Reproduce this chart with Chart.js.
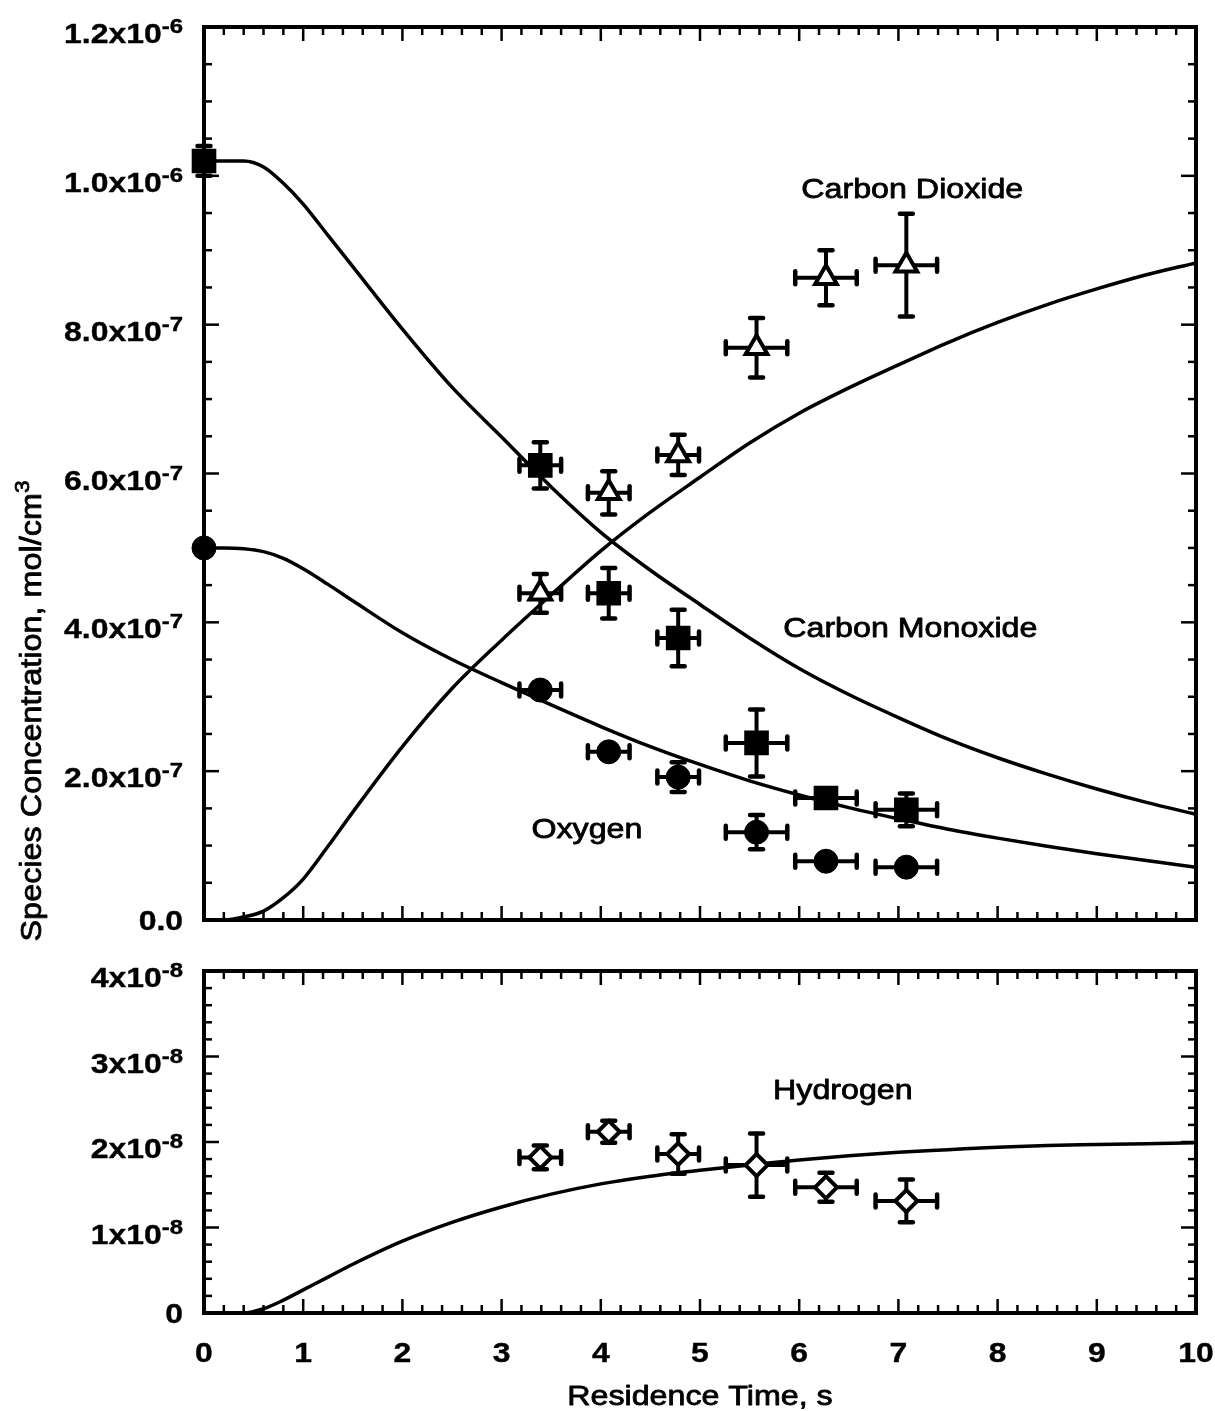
<!DOCTYPE html>
<html>
<head>
<meta charset="utf-8">
<title>Species Concentration vs Residence Time</title>
<script src="https://cdn.jsdelivr.net/npm/chart.js@4"></script>
<style>
html, body { margin: 0; padding: 0; background: #fff; }
#wrap { position: relative; width: 1215px; height: 1411px; overflow: hidden; }
#topChart { position: absolute; left: 0; top: 0; }
#botChart { position: absolute; left: 0; top: 940px; }
</style>
</head>
<body>
<div id="wrap">
  <canvas id="topChart" width="1215" height="1000"></canvas>
  <canvas id="botChart" width="1215" height="471"></canvas>
</div>
<script>
// model curves (solid lines)
const modelTime = [0, 0.2, 0.4, 0.6, 0.8, 1.0, 1.25, 1.5, 2, 2.5, 3, 3.5, 4, 4.5, 5, 5.5, 6, 6.5, 7, 7.5, 8, 8.5, 9, 9.5, 10]
const coModel = [10.2e-7, 10.2e-7, 10.2e-7, 10.12e-7, 9.9e-7, 9.62e-7, 9.2e-7, 8.78e-7, 7.94e-7, 7.16e-7, 6.49e-7, 5.82e-7, 5.21e-7, 4.7e-7, 4.24e-7, 3.79e-7, 3.38e-7, 3.03e-7, 2.72e-7, 2.43e-7, 2.18e-7, 1.96e-7, 1.76e-7, 1.58e-7, 1.42e-7]
const co2Model = [0, 0, 0.04e-7, 0.12e-7, 0.3e-7, 0.55e-7, 0.99e-7, 1.45e-7, 2.33e-7, 3.11e-7, 3.76e-7, 4.37e-7, 4.96e-7, 5.48e-7, 5.95e-7, 6.41e-7, 6.81e-7, 7.15e-7, 7.46e-7, 7.76e-7, 8.03e-7, 8.27e-7, 8.48e-7, 8.67e-7, 8.83e-7]
const o2Model = [5.0e-7, 5.0e-7, 4.99e-7, 4.95e-7, 4.86e-7, 4.72e-7, 4.51e-7, 4.29e-7, 3.86e-7, 3.5e-7, 3.19e-7, 2.89e-7, 2.6e-7, 2.33e-7, 2.09e-7, 1.87e-7, 1.68e-7, 1.51e-7, 1.36e-7, 1.22e-7, 1.1e-7, 0.99e-7, 0.89e-7, 0.8e-7, 0.71e-7]
const h2Model = [0, 0, 0, 0.05e-8, 0.15e-8, 0.27e-8, 0.42e-8, 0.57e-8, 0.84e-8, 1.06e-8, 1.24e-8, 1.39e-8, 1.51e-8, 1.6e-8, 1.67e-8, 1.73e-8, 1.79e-8, 1.84e-8, 1.88e-8, 1.91e-8, 1.94e-8, 1.96e-8, 1.97e-8, 1.98e-8, 1.99e-8]

// measured points with error bars
const sampleTime = [3.39, 4.08, 4.78, 5.57, 6.27, 7.08]
const sampleTimeErr = [0.21, 0.21, 0.21, 0.31, 0.31, 0.31]
const co2Data = [4.39e-7, 5.74e-7, 6.25e-7, 7.69e-7, 8.63e-7, 8.8e-7]
const co2Err = [0.26e-7, 0.29e-7, 0.27e-7, 0.4e-7, 0.37e-7, 0.69e-7]
const coTime = [0, 3.39, 4.08, 4.78, 5.57, 6.27, 7.08]
const coTimeErr = [0, 0.21, 0.21, 0.21, 0.31, 0.31, 0.31]
const coData = [10.2e-7, 6.11e-7, 4.39e-7, 3.79e-7, 2.38e-7, 1.64e-7, 1.48e-7]
const coErr = [0.2e-7, 0.31e-7, 0.34e-7, 0.38e-7, 0.45e-7, 0.1e-7, 0.22e-7]
const o2Data = [5.0e-7, 3.09e-7, 2.26e-7, 1.92e-7, 1.18e-7, 0.79e-7, 0.71e-7]
const o2Err = [0, 0.1e-7, 0.05e-7, 0.2e-7, 0.23e-7, 0, 0]
const h2Data = [1.82e-8, 2.12e-8, 1.86e-8, 1.73e-8, 1.47e-8, 1.31e-8]
const h2Err = [0.14e-8, 0.13e-8, 0.23e-8, 0.37e-8, 0.17e-8, 0.25e-8]

// ticks
const timeTicks = [0, 1, 2, 3, 4, 5, 6, 7, 8, 9, 10]
const topTicks = [0, 2e-7, 4e-7, 6e-7, 8e-7, 1.0e-6, 1.2e-6]
const topTickText = [['0.0', ''], ['2.0x10', '-7'], ['4.0x10', '-7'], ['6.0x10', '-7'], ['8.0x10', '-7'], ['1.0x10', '-6'], ['1.2x10', '-6']]
const botTicks = [0, 1e-8, 2e-8, 3e-8, 4e-8]
const botTickText = [['0', ''], ['1x10', '-8'], ['2x10', '-8'], ['3x10', '-8'], ['4x10', '-8']]

const FAMILY = '"Liberation Sans", Arial, Helvetica, sans-serif'
const pts = (xs, ys) => xs.map((v, i) => ({x: v, y: ys[i]}))

// text drawn a bit wider and heavier than the font, like the scanned original
function drawRich(ctx, parts, x, y, align, sx, weight) {
    let w = 0
    parts.forEach(p => { ctx.font = p.font; p.w = ctx.measureText(p.t).width; w += p.w })
    ctx.save()
    ctx.translate(x, y)
    ctx.scale(sx, 1)
    let cx = align === 'right' ? -w : align === 'center' ? -w / 2 : 0
    ctx.textAlign = 'left'
    ctx.textBaseline = 'alphabetic'
    ctx.fillStyle = '#000'
    ctx.strokeStyle = '#000'
    ctx.lineWidth = weight || 0
    ctx.lineJoin = 'round'
    parts.forEach(p => {
        ctx.font = p.font
        ctx.fillText(p.t, cx, p.dy || 0)
        if (weight) ctx.strokeText(p.t, cx, p.dy || 0)
        cx += p.w
    })
    ctx.restore()
}

function tickParts(pair) {
    const parts = [{t: pair[0], font: 'bold 28px ' + FAMILY}]
    if (pair[1]) parts.push({t: pair[1], font: 'bold 21px ' + FAMILY, dy: -10})
    return parts
}

const axisFrame = {
    id: 'axisFrame',
    afterDraw(chart, args, o) {
        const {ctx, chartArea: a, scales: {x, y}} = chart
        ctx.save()
        ctx.strokeStyle = '#000'
        ctx.lineCap = 'butt'
        ctx.lineWidth = 2.5
        const seg = (x1, y1, x2, y2) => { ctx.beginPath(); ctx.moveTo(x1, y1); ctx.lineTo(x2, y2); ctx.stroke() }
        const isMajor = (v, major) => Math.abs(v / major - Math.round(v / major)) < 1e-6

        let n = Math.round((x.max - x.min) / o.xMinor)
        for (let i = 1; i < n; i++) {
            const v = x.min + i * o.xMinor
            const len = isMajor(v, o.xMajor) ? 14 : 8
            const px = x.getPixelForValue(v)
            seg(px, a.bottom, px, a.bottom - len)
            seg(px, a.top, px, a.top + len)
        }
        n = Math.round((y.max - y.min) / o.yMinor)
        for (let i = 1; i < n; i++) {
            const v = y.min + i * o.yMinor
            const len = isMajor(v, o.yMajor) ? 15 : 8
            const py = y.getPixelForValue(v)
            seg(a.left, py, a.left + len, py)
            seg(a.right, py, a.right - len, py)
        }
        ctx.lineWidth = 4
        ctx.strokeRect(a.left, a.top, a.right - a.left, a.bottom - a.top)
        ctx.restore()

        // y tick labels
        o.yTicks.forEach((v, i) => {
            const pair = o.yText[i]
            const py = y.getPixelForValue(v)
            drawRich(ctx, tickParts(pair), 183, py + (pair[1] ? 16 : 10), 'right', 1.14, 0.4)
        })
        // x tick labels
        if (o.xText) {
            o.xText.forEach(v => {
                drawRich(ctx, tickParts([String(v), '']), x.getPixelForValue(v), a.bottom + 49, 'center', 1.14, 0.4)
            })
            drawRich(ctx, [{t: 'Residence Time, s', font: '28px ' + FAMILY}], x.getPixelForValue(5), a.bottom + 92, 'center', 1.15, 0.8)
        }
        // curve names
        o.notes.forEach(nt => {
            drawRich(ctx, [{t: nt.text, font: '28px ' + FAMILY}], x.getPixelForValue(nt.x), y.getPixelForValue(nt.y) + 10, 'center', 1.15, 0.8)
        })
        // shared y axis title
        if (o.yTitle) {
            ctx.save()
            ctx.translate(41, 711)
            ctx.rotate(-Math.PI / 2)
            drawRich(ctx, [
                {t: 'Species Concentration, mol/cm', font: '30px ' + FAMILY},
                {t: '3', font: '21px ' + FAMILY, dy: -12}
            ], 0, 0, 'center', 1.08, 0.8)
            ctx.restore()
        }
    }
}

const errorBars = {
    id: 'errorBars',
    beforeDatasetDraw(chart, args) {
        const ds = chart.data.datasets[args.index]
        if (!ds.xErr && !ds.yErr) return
        const {ctx, scales: {x, y}} = chart
        const cap = 6.5
        ctx.save()
        ctx.strokeStyle = '#000'
        const seg = (x1, y1, x2, y2) => { ctx.beginPath(); ctx.moveTo(x1, y1); ctx.lineTo(x2, y2); ctx.stroke() }
        ds.data.forEach((p, i) => {
            const px = x.getPixelForValue(p.x)
            const py = y.getPixelForValue(p.y)
            const ex = ds.xErr ? ds.xErr[i] : 0
            const ey = ds.yErr ? ds.yErr[i] : 0
            if (ey) {
                const y1 = y.getPixelForValue(p.y + ey)
                const y2 = y.getPixelForValue(p.y - ey)
                ctx.lineWidth = 4; ctx.lineCap = 'butt'
                seg(px, y1, px, y2)
                ctx.lineWidth = 4.5; ctx.lineCap = 'round'
                seg(px - cap, y1, px + cap, y1)
                seg(px - cap, y2, px + cap, y2)
            }
            if (ex) {
                const x1 = x.getPixelForValue(p.x - ex)
                const x2 = x.getPixelForValue(p.x + ex)
                ctx.lineWidth = 4; ctx.lineCap = 'butt'
                seg(x1, py, x2, py)
                ctx.lineWidth = 4.5; ctx.lineCap = 'round'
                seg(x1, py - cap, x1, py + cap)
                seg(x2, py - cap, x2, py + cap)
            }
        })
        ctx.restore()
    }
}

const lineSet = (data) => ({
    data: data, showLine: true, pointRadius: 0, borderColor: '#000', borderWidth: 3.5,
    cubicInterpolationMode: 'monotone', order: 1
})
const markSet = (data, style, radius, fill, border, xErr, yErr) => ({
    data: data, showLine: false, pointStyle: style, pointRadius: radius,
    pointBackgroundColor: fill, pointBorderColor: '#000', pointBorderWidth: border,
    xErr: xErr, yErr: yErr, clip: false, order: 0
})

const baseOptions = (yMax, pad, frame) => ({
    responsive: false,
    animation: false,
    events: [],
    layout: {padding: pad},
    plugins: {legend: {display: false}, tooltip: {enabled: false}, axisFrame: frame},
    scales: {
        x: {type: 'linear', min: 0, max: 10, display: false},
        y: {type: 'linear', min: 0, max: yMax, display: false}
    }
})

new Chart(document.getElementById('topChart'), {
    type: 'scatter',
    data: {
        datasets: [
            markSet(pts(sampleTime, co2Data), 'triangle', 12.5, '#fff', 4, sampleTimeErr, co2Err),
            markSet(pts(coTime, coData), 'rect', 16, '#000', 2, coTimeErr, coErr),
            markSet(pts(coTime, o2Data), 'circle', 12, '#000', 1, coTimeErr, o2Err),
            lineSet(pts(modelTime, coModel)),
            lineSet(pts(modelTime, co2Model)),
            lineSet(pts(modelTime, o2Model))
        ]
    },
    options: baseOptions(1.2e-6, {left: 204, right: 19, top: 27, bottom: 80}, {
        xMajor: 1, xMinor: 0.2, yMajor: 2e-7, yMinor: 0.5e-7,
        yTicks: topTicks, yText: topTickText, yTitle: true,
        notes: [
            {text: 'Carbon Dioxide', x: 7.14, y: 9.84e-7},
            {text: 'Carbon Monoxide', x: 7.12, y: 3.94e-7},
            {text: 'Oxygen', x: 3.86, y: 1.24e-7}
        ]
    }),
    plugins: [axisFrame, errorBars]
})

new Chart(document.getElementById('botChart'), {
    type: 'scatter',
    data: {
        datasets: [
            markSet(pts(sampleTime, h2Data), 'rectRot', 11, '#fff', 4, sampleTimeErr, h2Err),
            lineSet(pts(modelTime, h2Model))
        ]
    },
    options: baseOptions(4e-8, {left: 204, right: 19, top: 31, bottom: 98}, {
        xMajor: 1, xMinor: 0.2, yMajor: 1e-8, yMinor: 0.2e-8,
        yTicks: botTicks, yText: botTickText, xText: timeTicks,
        notes: [{text: 'Hydrogen', x: 6.44, y: 2.62e-8}]
    }),
    plugins: [axisFrame, errorBars]
})
</script>
</body>
</html>
